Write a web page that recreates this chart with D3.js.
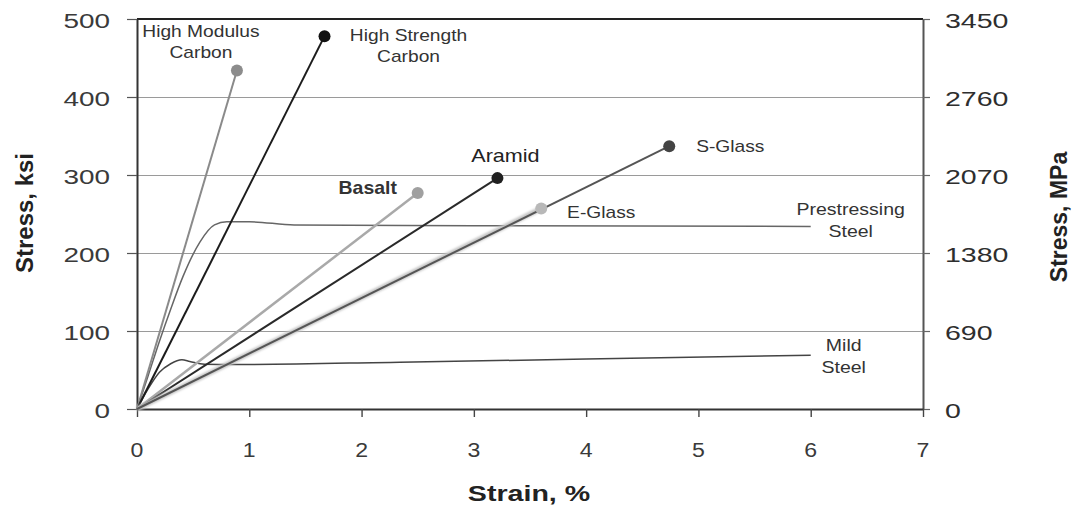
<!DOCTYPE html>
<html>
<head>
<meta charset="utf-8">
<script src="https://cdn.jsdelivr.net/npm/d3@7"></script>
<style>
  body { margin: 0; background: #fff; }
  svg { display: block; font-family: "Liberation Sans", Arial, sans-serif; }
</style>
</head>
<body>
<svg id="chart" width="1074" height="505"></svg>
<script>
// stress-strain data
const strainTicks = [0, 1, 2, 3, 4, 5, 6, 7]
const ksiTicks = [0, 100, 200, 300, 400, 500]
const mpaLabels = ['0', '690', '1380', '2070', '2760', '3450']

const frpNames = [['High Modulus', 'Carbon'], ['High Strength', 'Carbon'], ['Basalt'], ['Aramid'], ['E-Glass'], ['S-Glass']]
const frpStrain = [0.89, 1.67, 2.50, 3.21, 3.60, 4.74]
const frpStress = [434, 478, 277, 296, 257, 337]

const prestressStrain = [0, 0.1, 0.2, 0.3, 0.41, 0.56, 0.69, 0.8, 1.0, 1.4, 3.0, 6.0]
const prestressStress = [0, 43, 87, 128, 170, 214, 236, 240, 240, 236, 235, 234]

const mildStrain = [0, 0.1, 0.2, 0.3, 0.4, 0.47, 0.6, 0.86, 2.34, 4.0, 6.0]
const mildStress = [0, 26, 47, 58, 63, 61, 57.5, 57, 60, 64, 69]

// styles
const frpColor = ['#8a8a8a', '#1c1c1c', '#a9a9a9', '#2a2a2a', '#c4c4c4', '#555555']
const frpDot = ['#8c8c8c', '#111111', '#a0a0a0', '#202020', '#b8b8b8', '#444444']
const frpWidth = [2, 2, 2.5, 2, 5, 2]
// label offset from the rupture dot: [dx, dy of first line, bold]
const frpLabelOff = [[-36, -33, false], [84, 5, false], [-50, 1, true], [8, -16, false], [60, 9, false], [61, 6, false]]

const svg = d3.select('#chart')
const x = d3.scaleLinear().domain([0, 7]).range([137, 923])
const y = d3.scaleLinear().domain([0, 500]).range([409, 19])

function txt(g, px, py, s, opt) {
  opt = opt || {}
  return g.append('text')
    .attr('transform', 'translate(' + px + ',' + py + ') scale(' + (opt.sx || 1.2) + ',1)')
    .attr('text-anchor', opt.anchor || 'middle')
    .attr('font-size', (opt.size || 16) + 'px')
    .attr('font-weight', opt.bold ? 'bold' : 'normal')
    .attr('fill', opt.fill || '#333')
    .text(s)
}

// grid lines
svg.append('g')
  .attr('transform', 'translate(' + x(0) + ',0)')
  .call(d3.axisLeft(y).tickValues(ksiTicks.slice(1, 5)).tickSize(-(x(7) - x(0))).tickFormat(''))
  .call(g => g.select('.domain').remove())
  .call(g => g.selectAll('line').attr('stroke', '#9a9a9a').attr('stroke-width', 1.2))

// top border
svg.append('line')
  .attr('x1', x(0)).attr('x2', x(7)).attr('y1', y(500)).attr('y2', y(500))
  .attr('stroke', '#222').attr('stroke-width', 2)

// left axis
const leftAxis = svg.append('g')
  .attr('transform', 'translate(' + x(0) + ',0)')
  .call(d3.axisLeft(y).tickValues(ksiTicks).tickSize(10).tickSizeOuter(0).tickFormat(''))
leftAxis.select('.domain').attr('stroke', '#333').attr('stroke-width', 2)
leftAxis.selectAll('.tick line').attr('stroke', '#555').attr('stroke-width', 1.2)

ksiTicks.forEach(v => txt(svg, 110, y(v) + 9, String(v), { anchor: 'end', size: 21, sx: 1.33, fill: '#3a3a3a' }))

// right axis
const rightAxis = svg.append('g')
  .attr('transform', 'translate(' + x(7) + ',0)')
  .call(d3.axisRight(y).tickValues(ksiTicks).tickSize(7).tickSizeOuter(0).tickFormat(''))
rightAxis.select('.domain').attr('stroke', '#555').attr('stroke-width', 2)
rightAxis.selectAll('.tick line').attr('stroke', '#666').attr('stroke-width', 1.2)

ksiTicks.forEach((v, i) => txt(svg, 945, y(v) + 9, mpaLabels[i], { anchor: 'start', size: 21, sx: 1.36, fill: '#2e2e2e' }))

// bottom axis
const bottomAxis = svg.append('g')
  .attr('transform', 'translate(0,' + y(0) + ')')
  .call(d3.axisBottom(x).tickValues(strainTicks).tickSize(8).tickSizeOuter(0).tickFormat(''))
bottomAxis.select('.domain').attr('stroke', '#333').attr('stroke-width', 2)
bottomAxis.selectAll('.tick line').attr('stroke', '#444').attr('stroke-width', 1.4)

strainTicks.forEach(v => txt(svg, x(v), 457, String(v), { size: 21, sx: 1.1, fill: '#3a3a3a' }))

// axis titles
txt(svg, 529, 501, 'Strain, %', { size: 22, sx: 1.3, bold: true, fill: '#222' })
svg.append('text')
  .attr('transform', 'translate(33,213) rotate(-90)')
  .attr('text-anchor', 'middle').attr('font-size', '24px').attr('font-weight', 'bold').attr('fill', '#222')
  .text('Stress, ksi')
svg.append('text')
  .attr('transform', 'translate(1067,217) rotate(-90)')
  .attr('text-anchor', 'middle').attr('font-size', '23px').attr('font-weight', 'bold').attr('fill', '#222')
  .text('Stress, MPa')

// steel curves
const line = d3.line().x(d => x(d[0])).y(d => y(d[1])).curve(d3.curveMonotoneX)
const steel = [
  { s: prestressStrain, f: prestressStress, color: '#666', names: ['Prestressing', 'Steel'], dx: 40, dy: -11 },
  { s: mildStrain, f: mildStress, color: '#444', names: ['Mild', 'Steel'], dx: 33, dy: -4 },
]
steel.forEach(c => {
  const pts = c.s.map((v, i) => [v, c.f[i]])
  svg.append('path').datum(pts).attr('d', line)
    .attr('fill', 'none').attr('stroke', c.color).attr('stroke-width', 1.5)
  const last = pts[pts.length - 1]
  c.names.forEach((n, k) => txt(svg, x(last[0]) + c.dx, y(last[1]) + c.dy + k * 22, n, { size: 16, sx: 1.22 }))
})

// blur for the soft E-Glass line
svg.append('defs').append('filter').attr('id', 'soft')
  .append('feGaussianBlur').attr('stdDeviation', 0.8)

// FRP lines from origin to rupture
frpStrain.forEach((s, i) => {
  svg.append('line')
    .attr('x1', x(0)).attr('y1', y(0)).attr('x2', x(s)).attr('y2', y(frpStress[i]))
    .attr('stroke', frpColor[i]).attr('stroke-width', frpWidth[i])
    .attr('filter', i === 4 ? 'url(#soft)' : null)
})
frpStrain.forEach((s, i) => {
  svg.append('circle')
    .attr('cx', x(s)).attr('cy', y(frpStress[i])).attr('r', 6)
    .attr('fill', frpDot[i])
  const off = frpLabelOff[i]
  frpNames[i].forEach((n, k) => {
    txt(svg, x(s) + off[0], y(frpStress[i]) + off[1] + k * 21, n,
      { size: off[2] ? 18 : (i === 3 ? 18 : 16), sx: off[2] ? 1.08 : 1.2, bold: off[2], fill: i === 3 ? '#222' : '#333' })
  })
})
</script>
</body>
</html>
